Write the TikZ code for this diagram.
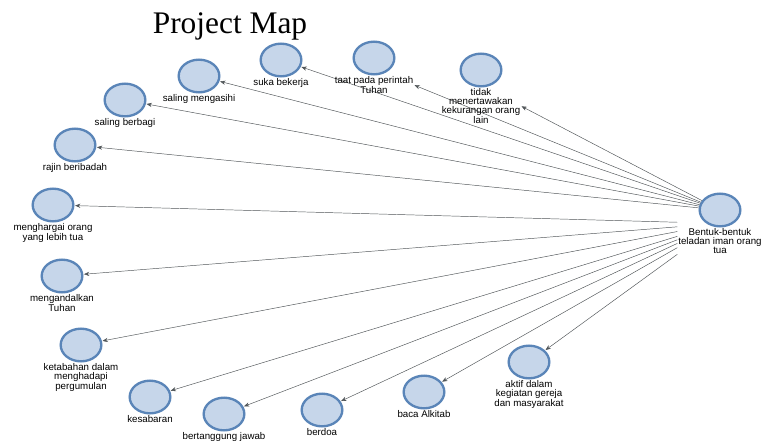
\documentclass[tikz,border=0pt]{standalone}
\usepackage{fontspec}
\setmainfont{Liberation Serif}
\newfontfamily\lblfont{Liberation Sans}
\usetikzlibrary{positioning,fit,shapes.geometric,arrows.meta}
\definecolor{bubfill}{HTML}{C6D6EA}
\definecolor{bubline}{HTML}{5A85B8}
\definecolor{connline}{HTML}{505558}
\tikzset{
  bub/.style={ellipse, draw=bubline, fill=bubfill, line width=2pt,
    minimum width=1.22cm, minimum height=0.98cm, inner sep=0pt},
  lbl/.style={font=\lblfont\fontsize{8.3}{7.7}\selectfont, align=center, inner sep=0.5pt},
  grp/.style={inner sep=0pt},
  conn/.style={thin, connline, ->, >={Stealth[length=4.5pt,width=3.6pt]}, shorten >=0.5pt}
}
\begin{document}
\begin{tikzpicture}[x=0.03cm, y=-0.03cm]
    \useasboundingbox (0,0) rectangle (764,441);
    \node[anchor=base, font=\fontsize{26.8}{30}\selectfont] (title) at (230,33) {Project Map};
    \node[bub] (hub) at (720,210) {};
    \node[lbl, below=0pt of hub] (hub-t) {Bentuk-bentuk\\teladan iman orang\\tua};
    \node[grp, fit=(hub)(hub-t)] (hub-g) {};
    \foreach \nm/\px/\py/\src/\tgt/\txt in {
        suka/281/60/hub/suka/{suka bekerja},
        taat/374/58/hub/taat-t.east/{taat pada perintah\\Tuhan},
        tidak/481/70/hub/tidak-t.east/{tidak\\menertawakan\\kekurangan orang\\lain},
        kasih/199/76/hub/kasih/{saling mengasihi},
        bagi/125/100/hub/bagi/{saling berbagi},
        rajin/75/145/hub/rajin/{rajin beribadah},
        hormat/53/205/hub-g/hormat/{menghargai orang\\yang lebih tua},
        andal/62/276/hub-g/andal/{mengandalkan\\Tuhan},
        tabah/81/345/hub-g/tabah/{ketabahan dalam\\menghadapi\\pergumulan},
        sabar/150/397/hub-g/sabar/{kesabaran},
        jawab/224/414/hub-g/jawab/{bertanggung jawab},
        doa/322/410/hub-g/doa/{berdoa},
        baca/424/392/hub-g/baca/{baca Alkitab},
        aktif/529/362/hub-g/aktif/{aktif dalam\\kegiatan gereja\\dan masyarakat}} {
        \node[bub] (\nm) at (\px,\py) {};
        \node[lbl, below=0pt of \nm] (\nm-t) {\txt};
        \draw[conn] (\src) -- (\tgt);
    }
\end{tikzpicture}
\end{document}
